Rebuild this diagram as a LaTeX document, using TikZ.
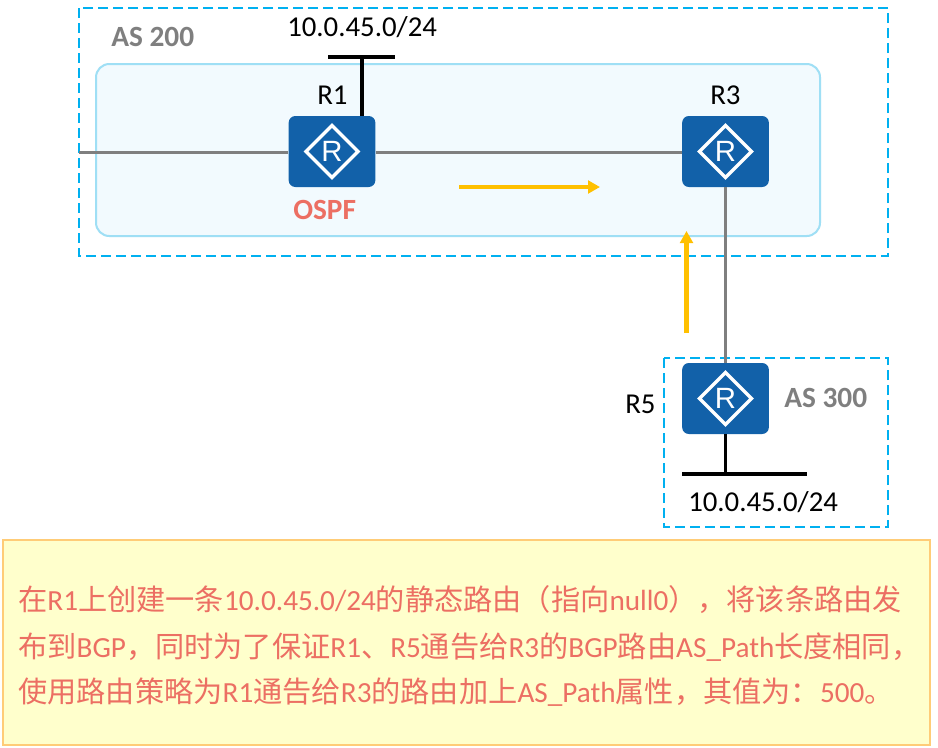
\documentclass[tikz,border=0pt]{standalone}
\usepackage{fontspec}
\setmainfont{Carlito}
\newfontfamily\cjk{Noto Sans CJK SC}
\newfontfamily\rfont{Liberation Sans}
\usetikzlibrary{shapes.geometric,arrows.meta}
\definecolor{dashblue}{HTML}{00B0F0}
\definecolor{ospffill}{HTML}{F2FAFE}
\definecolor{ospfline}{HTML}{9FDFF5}
\definecolor{routerblue}{HTML}{1261A9}
\definecolor{linkgrey}{HTML}{7F7F7F}
\definecolor{arrowyellow}{HTML}{FFC000}
\definecolor{notefill}{HTML}{FFFFCC}
\definecolor{noteline}{HTML}{FFCC77}
\definecolor{notetext}{HTML}{EC6F63}
\tikzset{
  x=0.75pt,y=-0.75pt,
  asbox/.style={draw=dashblue,line width=1.5pt,dash pattern=on 7.5pt off 3.75pt},
  routerbox/.style={fill=routerblue,rounded corners=5pt,minimum width=65pt,minimum height=53.25pt,inner sep=0pt},
  routermark/.style={diamond,draw=white,line width=2.5pt,minimum width=40pt,minimum height=40pt,inner sep=0pt,
    text=white,font=\rfont\fontsize{22}{22}\selectfont},
  label/.style={anchor=base west,inner sep=0pt,font=\fontsize{21.6}{24}\selectfont,text=black},
  aslabel/.style={anchor=base west,inner sep=0pt,font=\bfseries\fontsize{22}{24}\selectfont,text=linkgrey},
  link/.style={draw=linkgrey,line width=2.25pt},
  stub/.style={draw=black,line width=2.4pt},
  flow/.style={draw=arrowyellow,line width=3.2pt,-{Triangle[length=9pt,width=9.5pt]}},
  noteline/.style={anchor=base west,inner sep=0pt,text=notetext,font=\fontsize{21.9}{24}\selectfont},
}
\begin{document}
\begin{tikzpicture}
\useasboundingbox (0,0) rectangle (938,747);
\fill[white] (0,0) rectangle (938,747);
% boxes
\draw[asbox] (79,8) rectangle (888,256);
\draw[draw=ospfline,fill=ospffill,line width=1.5pt,rounded corners=10pt] (96,64) rectangle (820,236);
\draw[asbox] (664,358) rectangle (888,527);
\draw[draw=noteline,fill=notefill,line width=1.5pt] (3,540) rectangle (930,745);
% routers
\node[routerbox] (r1) at (332,151.5) {};
\node[routerbox] (r3) at (725.5,151.5) {};
\node[routerbox] (r5) at (725.5,398.5) {};
\node[routermark] (r1m) at (r1.center) {R};
\node[routermark] (r3m) at (r3.center) {R};
\node[routermark] (r5m) at (r5.center) {R};
% free ends
\coordinate (west) at (79,152);
\coordinate (t1) at (362,57);
\coordinate (t1w) at (328,57);
\coordinate (t1e) at (395,57);
\coordinate (t5) at (726,474);
\coordinate (t5w) at (682,474);
\coordinate (t5e) at (807,474);
\coordinate (f1a) at (459,187);
\coordinate (f1b) at (600,187);
\coordinate (f2a) at (686.5,333);
\coordinate (f2b) at (686.5,231);
% links
\draw[link] (west) -- (r1.west |- west);
\draw[link] (r1.east |- west) -- (r3.west |- west);
\draw[link] (r3.south) -- (r5.north);
\draw[stub] (t1) -- (t1 |- r1.north);
\draw[stub] (t1w) -- (t1e);
\draw[stub] (r5.south) -- (r5.south |- t5);
\draw[stub] (t5w) -- (t5e);
\draw[flow] (f1a) -- (f1b);
\draw[flow] (f2a) -- (f2b);
% labels
\node[label] (n1) at (287,36) {10.0.45.0/24};
\node[label] (n5) at (688,511) {10.0.45.0/24};
\node[label] (l1) at (317,104) {R1};
\node[label] (l3) at (710,104) {R3};
\node[label] (l5) at (625,413) {R5};
\node[aslabel] (as2) at (111,46.5) {AS 200};
\node[aslabel] (as3) at (784,407) {AS 300};
\node[aslabel,text=notetext] (os) at (293,219) {OSPF};
% note
\node[noteline] (t1l) at (18,610) {{\cjk 在}R1{\cjk 上创建一条}10.0.45.0/24{\cjk 的静态路由（指向}null0{\cjk ），将该条路由发}};
\node[noteline] (t2l) at (18,657) {{\cjk 布到}BGP{\cjk ，同时为了保证}R1{\cjk 、}R5{\cjk 通告给}R3{\cjk 的}BGP{\cjk 路由}AS\_Path{\cjk 长度相同，}};
\node[noteline] (t3l) at (18,702) {{\cjk 使用路由策略为}R1{\cjk 通告给}R3{\cjk 的路由加上}AS\_Path{\cjk 属性，其值为：}500{\cjk 。}};
\end{tikzpicture}
\end{document}
